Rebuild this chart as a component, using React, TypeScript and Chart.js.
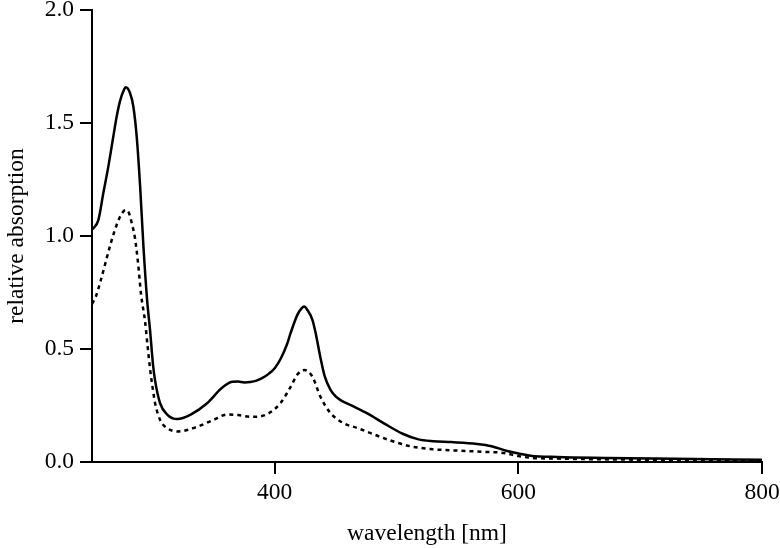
import { useEffect, useRef } from "react";
import { Chart, registerables } from "chart.js";

Chart.register(...registerables);

// Solid trace: wavelength (nm) and relative absorption
const solidWavelengths = [
  250, 251.1, 255.2, 259.3, 263.4, 267.5, 270.3, 273, 275.7, 277.7, 281.2, 283.9, 286.7, 289.5, 292.2, 295.2,
  297.7, 300.1, 301.8, 305.9, 311.7, 320, 331, 344.5, 355, 360, 365, 370, 375, 380, 385, 390, 395, 400, 405,
  410, 413, 418.5, 422, 424.3, 426.5, 431, 434, 437.4, 441, 445.7, 450, 454, 465, 476, 490, 505, 518, 530, 545,
  566, 578, 590, 600, 610, 632, 673, 728, 800,
];
const solidAbsorption = [
  1.03, 1.034, 1.07, 1.19, 1.307, 1.44, 1.53, 1.597, 1.64, 1.658, 1.633, 1.574, 1.44, 1.22, 0.956, 0.72, 0.58,
  0.43, 0.36, 0.26, 0.21, 0.19, 0.21, 0.26, 0.32, 0.342, 0.355, 0.356, 0.352, 0.354, 0.36, 0.372, 0.39, 0.415,
  0.458, 0.52, 0.57, 0.65, 0.68, 0.688, 0.675, 0.628, 0.56, 0.465, 0.38, 0.32, 0.29, 0.274, 0.245, 0.215, 0.17,
  0.125, 0.1, 0.092, 0.088, 0.08, 0.07, 0.05, 0.038, 0.028, 0.022, 0.018, 0.014, 0.01,
];

// Dashed trace
const dashedWavelengths = [
  250, 253, 257, 261, 265, 269, 273, 276, 278, 280.5, 282.5, 285.3, 287.8, 290.3, 293.6, 295.5, 297.7, 300,
  301.8, 305.9, 311.7, 320, 336, 349.5, 361, 370, 380, 388, 395, 404.6, 412.8, 419, 424.5, 431, 437.4, 445.7,
  456.4, 468, 480, 495, 511, 528, 544, 571, 588, 600, 612, 632, 700, 800,
];
const dashedAbsorption = [
  0.7, 0.73, 0.8, 0.88, 0.96, 1.03, 1.085, 1.11, 1.115, 1.1, 1.06, 0.99, 0.88, 0.74, 0.62, 0.52, 0.41, 0.32,
  0.26, 0.186, 0.15, 0.135, 0.155, 0.186, 0.21, 0.208, 0.2, 0.202, 0.215, 0.26, 0.33, 0.39, 0.407, 0.377, 0.29,
  0.217, 0.172, 0.15, 0.125, 0.095, 0.07, 0.057, 0.052, 0.045, 0.04, 0.026, 0.018, 0.015, 0.01, 0.006,
];

const xTickValues = [400, 600, 800];
const yTickValues = [0, 0.5, 1.0, 1.5, 2.0];
const xTitle = "wavelength [nm]";
const yTitle = "relative absorption";

export default function App() {
  const ref = useRef<HTMLCanvasElement>(null);

  useEffect(() => {
    const font = { family: "'Liberation Serif', 'Times New Roman', serif", size: 23.5 };
    const black = "#000";
    const chart = new Chart(ref.current as HTMLCanvasElement, {
      type: "line",
      data: {
        datasets: [
          {
            data: solidWavelengths.map((x, i) => ({ x, y: solidAbsorption[i] })),
            borderColor: black,
            borderWidth: 2.5,
            pointRadius: 0,
            fill: false,
            cubicInterpolationMode: "monotone",
          },
          {
            data: dashedWavelengths.map((x, i) => ({ x, y: dashedAbsorption[i] })),
            borderColor: black,
            borderWidth: 2.5,
            borderDash: [4, 4],
            pointRadius: 0,
            fill: false,
            cubicInterpolationMode: "monotone",
          },
        ],
      },
      options: {
        animation: false,
        responsive: false,
        events: [],
        plugins: { legend: { display: false }, tooltip: { enabled: false } },
        layout: { padding: { top: 10, left: 0, right: 0, bottom: 0 } },
        scales: {
          x: {
            type: "linear",
            min: 250,
            max: 800,
            afterBuildTicks: (s: any) => {
              s.ticks = xTickValues.map((v) => ({ value: v }));
            },
            ticks: { font, color: black, padding: 5, maxRotation: 0, callback: (v: any) => String(v) },
            grid: { display: true, drawOnChartArea: false, drawTicks: true, tickLength: 12, color: black, lineWidth: 2 },
            border: { display: true, color: black, width: 2 },
            title: { display: true, text: xTitle, font, color: black, padding: { top: 0, bottom: 0 } },
            afterFit: (s: any) => {
              s.height = 86;
              s.paddingRight = 18;
              s.paddingLeft = 0;
            },
          },
          y: {
            type: "linear",
            min: 0,
            max: 2,
            afterBuildTicks: (s: any) => {
              s.ticks = yTickValues.map((v) => ({ value: v }));
            },
            ticks: { font, color: black, padding: 6, callback: (v: any) => Number(v).toFixed(1) },
            grid: { display: true, drawOnChartArea: false, drawTicks: true, tickLength: 12, color: black, lineWidth: 2 },
            border: { display: true, color: black, width: 2 },
            title: { display: true, text: yTitle, font, color: black, padding: { top: 3, bottom: 0 } },
            afterFit: (s: any) => {
              s.width = 92;
              s.paddingTop = 0;
            },
          },
        },
      },
    });
    return () => chart.destroy();
  }, []);

  return (
    <div style={{ position: "fixed", left: 0, top: 0, width: 780, height: 548, background: "#fff" }}>
      <canvas ref={ref} width={780} height={548} style={{ display: "block" }} />
    </div>
  );
}
